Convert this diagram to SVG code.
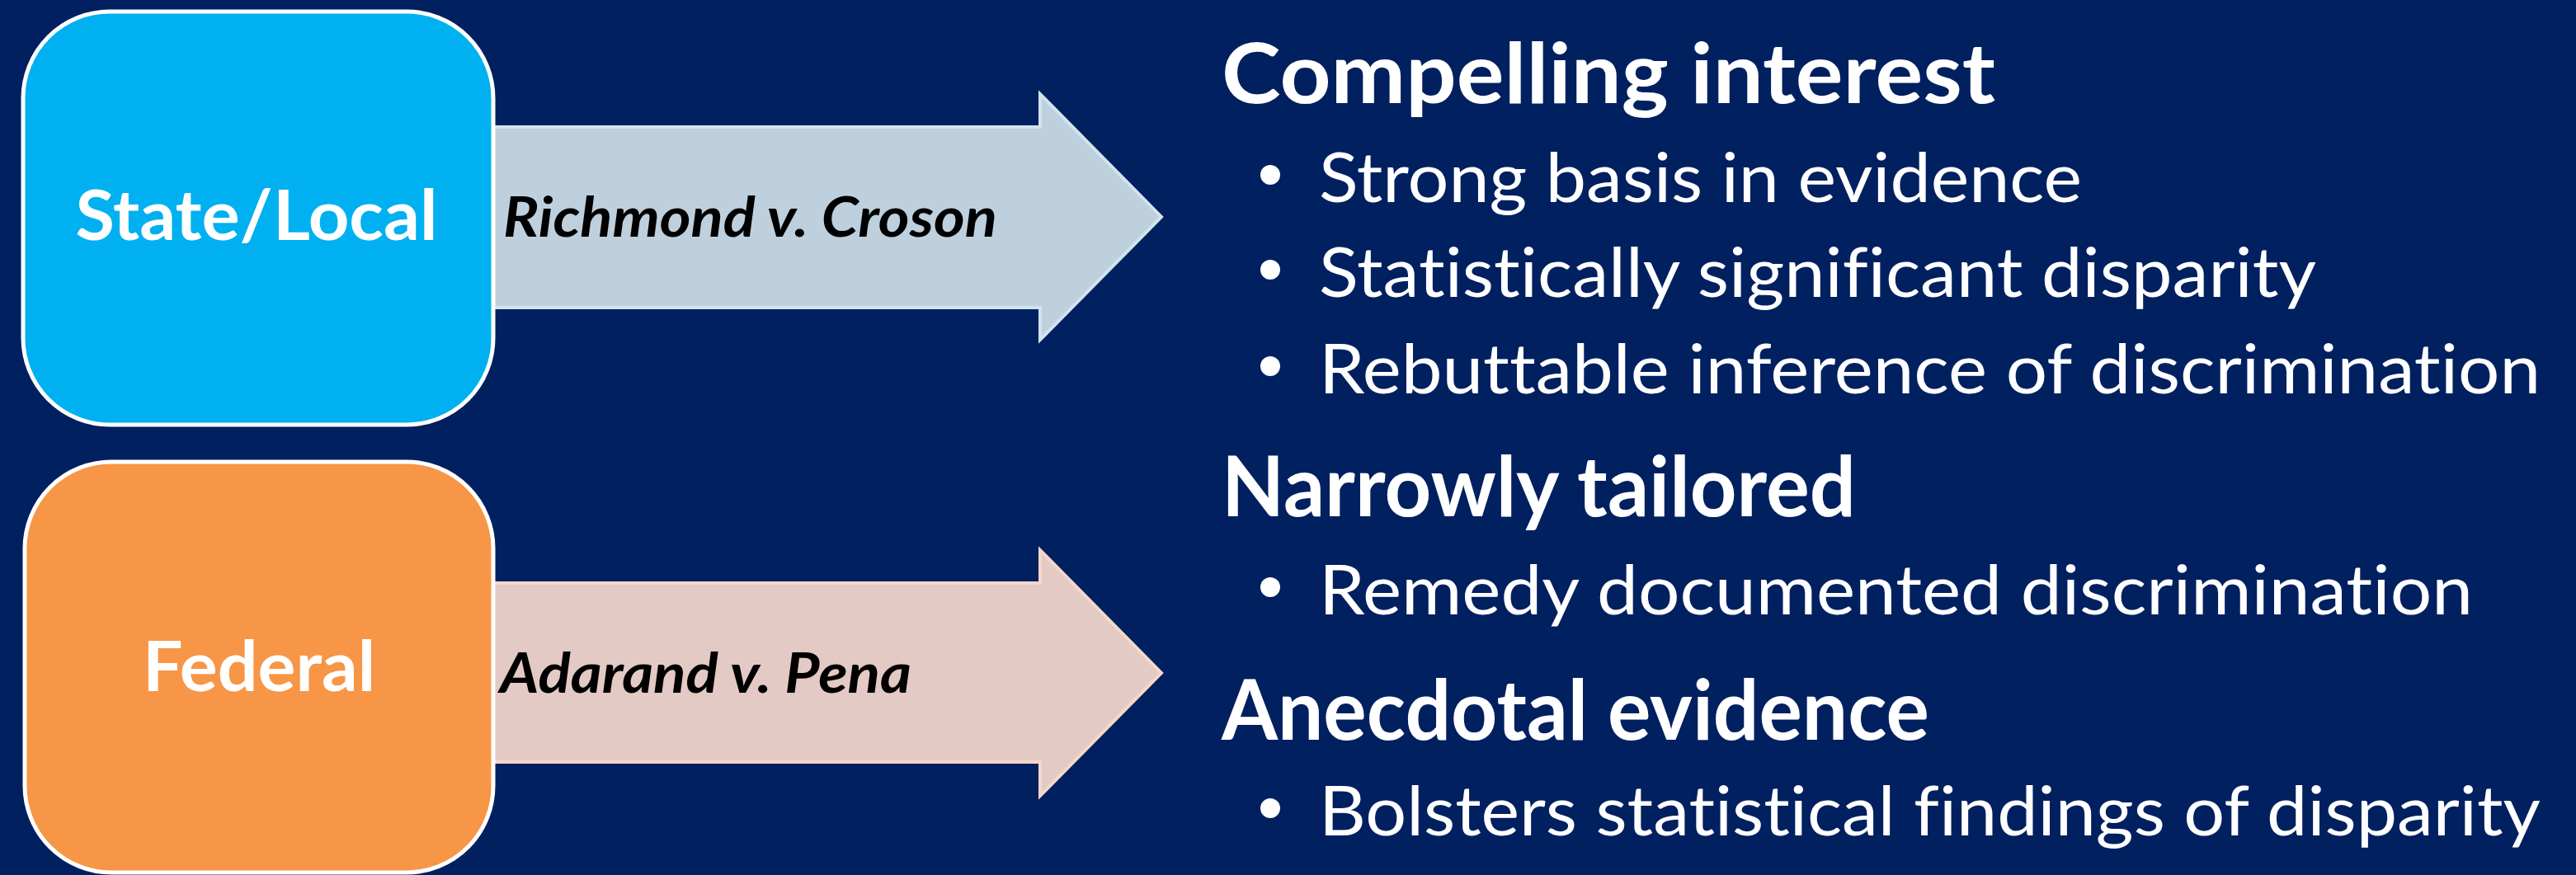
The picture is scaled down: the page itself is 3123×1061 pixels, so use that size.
<svg xmlns="http://www.w3.org/2000/svg" width="3123" height="1061" viewBox="0 0 3123 1061">
<style>
  text { font-variant-ligatures: none; font-feature-settings: "liga" 0, "clig" 0, "dlig" 0; }
  .box { stroke: #FFFFFF; stroke-width: 5; }
  .boxlbl { font-family: Lato, "Open Sans", "Liberation Sans", sans-serif; font-weight: bold; fill: #FFFFFF; text-anchor: middle; }
  .arrow1 { fill: #BED0DE; stroke: #D2E3EC; stroke-width: 4; }
  .arrow2 { fill: #E3CAC5; stroke: #F4D8C8; stroke-width: 4; }
  .case { font-family: Lato, "Open Sans", "Liberation Sans", sans-serif; font-weight: bold; font-style: italic; fill: #000000; font-size: 67px; }
  .head { font-family: Lato, "Open Sans", "Liberation Sans", sans-serif; font-weight: bold; fill: #FFFFFF; font-size: 102px; }
  .item { font-family: Lato, "Open Sans", "Liberation Sans", sans-serif; fill: #FFFFFF; font-size: 83px; }
  .dot { fill: #FFFFFF; }
</style>
<rect x="0" y="0" width="3123" height="1061" fill="#002060"/>

<g id="connectors">
  <g id="arrow-croson">
    <polygon class="arrow1" points="590,154 1261,154 1261,114 1408,263 1261,412 1261,373 590,373"/>
    <text class="case" x="610" y="287" textLength="599" lengthAdjust="spacingAndGlyphs">Richmond v. Croson</text>
  </g>
  <g id="arrow-adarand">
    <polygon class="arrow2" points="590,707 1261,707 1261,667 1408,816 1261,965 1261,924 590,924"/>
    <text class="case" x="606" y="840" textLength="499" lengthAdjust="spacingAndGlyphs">Adarand v. Pena</text>
  </g>
</g>

<g id="node-state-local">
  <rect class="box" x="28" y="14" width="570" height="501" rx="105" ry="105" fill="#00B0F0"/>
  <text class="boxlbl" x="311" y="291" font-size="85" textLength="439" lengthAdjust="spacingAndGlyphs">State/Local</text>
</g>

<g id="node-federal">
  <rect class="box" x="30" y="560" width="568" height="498" rx="105" ry="105" fill="#F79646"/>
  <text class="boxlbl" x="314" y="838" font-size="84" textLength="282" lengthAdjust="spacingAndGlyphs">Federal</text>
</g>

<g id="node-criteria">
  <text class="head" x="1481" y="125" textLength="938" lengthAdjust="spacingAndGlyphs">Compelling interest</text>
  <circle class="dot" cx="1540" cy="212" r="12"/>
  <text class="item" x="1599" y="245" textLength="925" lengthAdjust="spacingAndGlyphs">Strong basis in evidence</text>
  <circle class="dot" cx="1540" cy="327" r="12"/>
  <text class="item" x="1599" y="360" textLength="1209" lengthAdjust="spacingAndGlyphs">Statistically significant disparity</text>
  <circle class="dot" cx="1540" cy="444" r="12"/>
  <text class="item" x="1599" y="477" textLength="1481" lengthAdjust="spacingAndGlyphs">Rebuttable inference of discrimination</text>

  <text class="head" x="1481" y="626" textLength="769" lengthAdjust="spacingAndGlyphs">Narrowly tailored</text>
  <circle class="dot" cx="1540" cy="712" r="12"/>
  <text class="item" x="1599" y="745" textLength="1399" lengthAdjust="spacingAndGlyphs">Remedy documented discrimination</text>

  <text class="head" x="1481" y="897" textLength="858" lengthAdjust="spacingAndGlyphs">Anecdotal evidence</text>
  <circle class="dot" cx="1540" cy="980" r="12"/>
  <text class="item" x="1599" y="1013" textLength="1481" lengthAdjust="spacingAndGlyphs">Bolsters statistical findings of disparity</text>
</g>
</svg>
